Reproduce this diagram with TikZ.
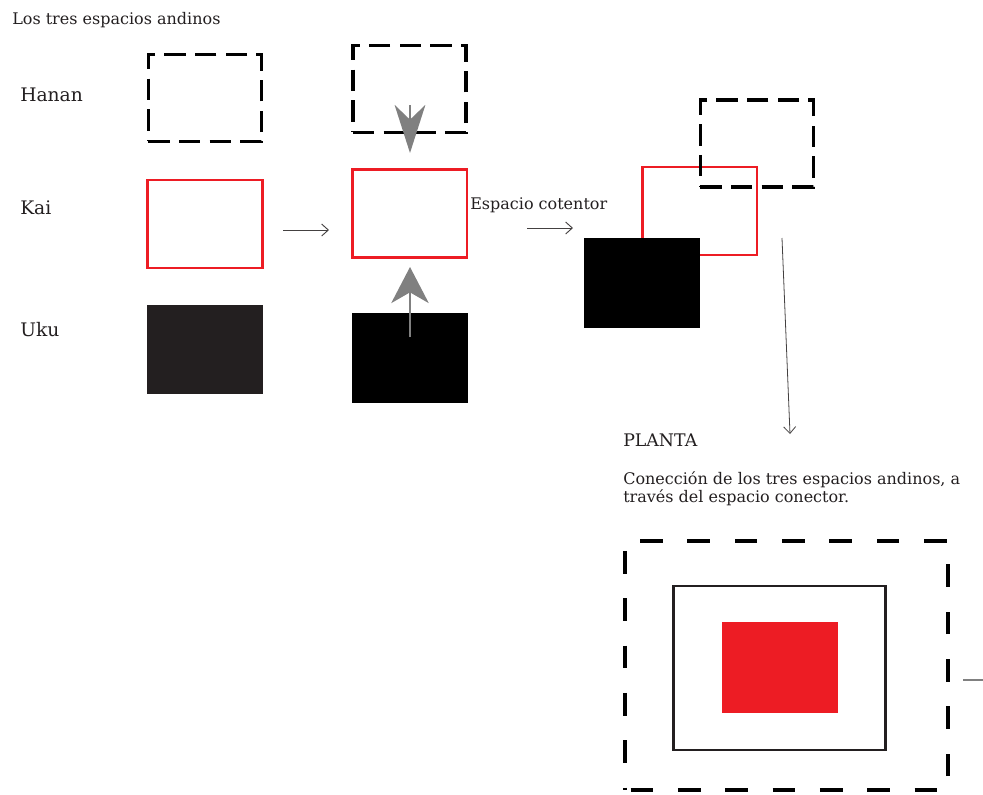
\documentclass[tikz,border=0pt]{standalone}
\usepackage{fontspec}
\setmainfont{DejaVu Serif}
\usetikzlibrary{arrows.meta, positioning}
\definecolor{kaired}{RGB}{237,28,36}
\definecolor{ukudark}{RGB}{35,31,32}
\definecolor{txtdark}{RGB}{35,31,32}
\definecolor{liftgray}{RGB}{128,128,128}
\tikzset{
  hananbox/.style={rectangle, draw=black, dash pattern=on 16pt off 7pt,
    line width=2.6pt, minimum width=85pt, minimum height=65pt, inner sep=0pt},
  kaibox/.style={rectangle, draw=kaired, line width=2pt,
    minimum width=86pt, minimum height=66pt, inner sep=0pt},
  ukubox/.style={rectangle, fill=black, minimum width=87pt,
    minimum height=67pt, inner sep=0pt},
  label/.style={font=\fontsize{14}{17}\selectfont, text=txtdark, anchor=west, inner sep=0pt},
  note/.style={font=\fontsize{12}{13.5}\selectfont, text=txtdark, inner sep=0pt},
  arrow/.style={-{Straight Barb[length=5pt, width=9pt]}, line width=0.7pt, color=txtdark!85},
  liftarrow/.style={-{Stealth[length=36pt, width=23pt, inset=11pt]}, line width=2.2pt, color=liftgray},
  line/.style={line width=0.8pt, color=liftgray}
}
\begin{document}
\begin{tikzpicture}[x=0.75pt, y=-0.75pt]
  \useasboundingbox (0,0) rectangle (983,794);

  \node[note, anchor=west] (titulo) at (12,20) {Los tres espacios andinos};

  % niveles
  \node[label] (lhanan) at (20,95) {Hanan};
  \node[label] (lkai) at (20,208) {Kai};
  \node[label] (luku) at (20,330) {Uku};

  % columna 1
  \node[hananbox] (hanan1) at (205,98) {};
  \node[kaibox] (kai1) at (205,224) {};
  \node[ukubox, fill=ukudark] (uku1) at (205,349.5) {};

  % columna 2
  \node[hananbox] (hanan2) at (409.5,89) {};
  \node[kaibox] (kai2) at (409.5,213.5) {};
  \node[ukubox] (uku2) at (409.5,358) {};

  \coordinate (a1s) at (283,230);
  \coordinate (a1e) at (329,230);
  \draw[arrow] (a1s) -- (a1e);

  \coordinate (bajas) at (410,105);
  \coordinate (bajae) at (410,153);
  \draw[liftarrow] (bajas) -- (bajae);
  \coordinate (subes) at (410,337);
  \coordinate (subee) at (410,267);
  \draw[liftarrow, -{Stealth[length=27pt, width=28pt, inset=8pt]}] (subes) -- (subee);

  % columna 3
  \node[note, anchor=west] (contenedor) at (470,205) {Espacio cotentor};
  \coordinate (a2s) at (527,228);
  \coordinate (a2e) at (573,228);
  \draw[arrow] (a2s) -- (a2e);

  \node[kaibox] (kai3) at (699.5,211) {};
  \node[ukubox] (uku3) at (642,283) {};
  \node[hananbox] (hanan3) at (757,143.5) {};

  \coordinate (a3s) at (782,238);
  \coordinate (a3e) at (790,434);
  \draw[arrow, line width=0.6pt] (a3s) -- (a3e);

  % planta
  \node[note, anchor=west, font=\fontsize{13}{15}\selectfont] (planta) at (623,440) {PLANTA};
  \node[note, anchor=north west, align=left] (texto) at (623,471)
    {Conección de los tres espacios andinos, a\\través del espacio conector.};

  \node[rectangle, draw=black, dash pattern=on 17pt off 18.5pt, dash phase=-4pt, line width=3pt,
    minimum width=242pt, minimum height=187pt, inner sep=0pt] (hananp) at (786.5,665.5) {};
  \node[rectangle, draw=ukudark, line width=2.2pt, minimum width=159pt,
    minimum height=123pt, inner sep=0pt] (kaip) at (779.5,668) {};
  \node[rectangle, fill=kaired, minimum width=87pt, minimum height=68pt,
    inner sep=0pt] (ukup) at (780,667.5) {};

  \coordinate (cola) at (983,680);
  \draw[line] ([xshift=10pt]hananp.east |- cola) -- (cola);
\end{tikzpicture}
\end{document}
